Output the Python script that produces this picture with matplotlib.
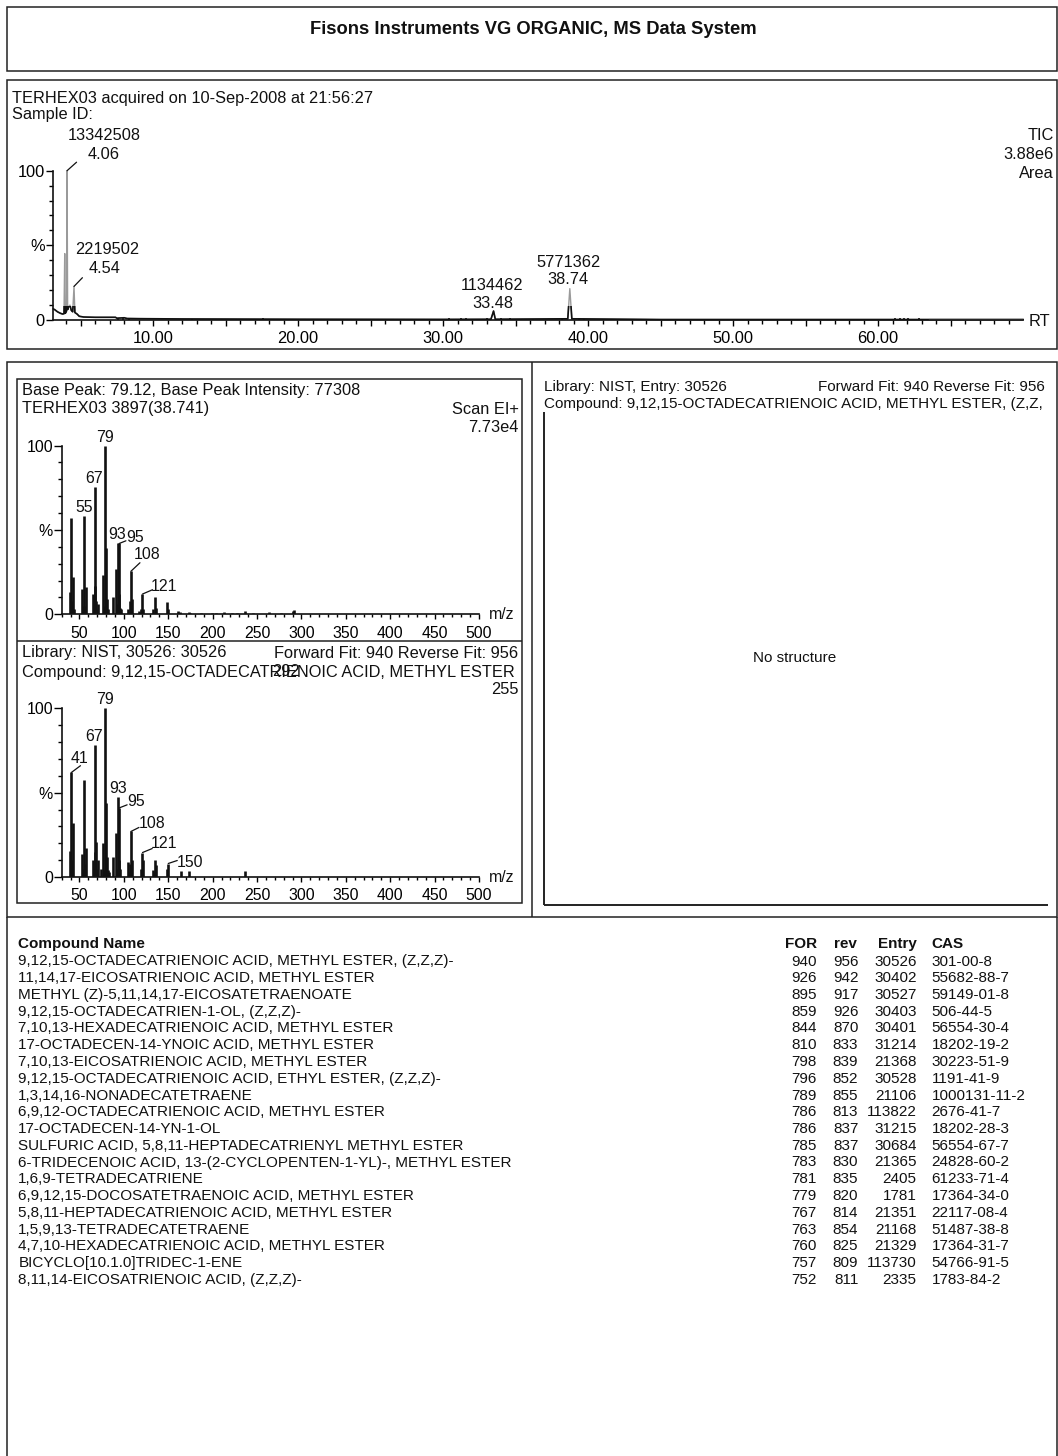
import matplotlib
matplotlib.use("Agg")
import matplotlib.pyplot as plt
from matplotlib.ticker import FixedLocator, FuncFormatter
from matplotlib.patches import Rectangle

W, H, DPI = 1058, 1456, 100
PT = 72.0 / DPI          # points per pixel
plt.rcParams['font.family'] = ['Liberation Sans', 'DejaVu Sans']
plt.rcParams['text.color'] = '#111111'

FS = 11.8     # main text size
FS_S = 10.95  # table / library panel text size

# ---------------- data ----------------
title = "Fisons Instruments VG ORGANIC, MS Data System"
run_line = "TERHEX03 acquired on 10-Sep-2008 at 21:56:27"
sample_line = "Sample ID:"

# TIC trace (retention time in min, % of full scale)
tic_rt = [3.07, 3.2, 3.4, 3.6, 3.75, 3.85, 3.90, 3.93, 3.98, 4.02, 4.10,
          4.18, 4.26, 4.35, 4.45, 4.60, 4.75, 4.9, 5.2, 6.0, 7.4, 7.5,
          8.0, 8.2, 9.0, 12.0, 20.0, 30.0, 33.3, 33.6, 38.6, 38.88, 45.0,
          61.0, 70.0]
tic_pct = [7.5, 7.0, 5.5, 4.5, 4.0, 4.2, 44.5, 4.5, 5.0, 6.0, 7.0,
           9.0, 10.0, 6.5, 5.5, 5.0, 4.0, 2.5, 2.0, 1.8, 1.8, 1.2,
           1.5, 1.0, 0.9, 0.7, 0.5, 0.4, 0.5, 0.5, 0.8, 0.8, 0.3,
           0.3, 0.3]
# integrated peaks
peak_rt = [4.06, 4.54, 33.48, 38.74]
peak_area = [13342508, 2219502, 1134462, 5771362]
peak_pct = [100.0, 22.5, 6.0, 21.0]
# small baseline spikes
noise_rt = [7.6, 7.9, 8.3, 12.7, 17.6, 18.2, 29.0, 30.4, 30.8, 31.2, 31.6,
            32.0, 32.5, 33.0, 34.0, 34.6, 35.4, 36.2, 38.2, 39.4, 39.7,
            61.2, 61.5, 61.8, 62.1, 62.4, 62.8, 63.4]
noise_pct = [1.5, 1.2, 1.0, 0.8, 1.2, 0.8, 1.0, 1.2, 1.0, 1.5, 1.2,
             1.0, 1.0, 1.2, 1.5, 1.2, 1.0, 0.8, 1.0, 1.5, 1.0,
             1.5, 1.2, 1.5, 1.2, 1.0, 1.2, 1.0]
tic_right = ["TIC", "3.88e6", "Area"]

# sample spectrum, scan 3897 (m/z, % of base peak)
scan_mz = [39, 41, 42, 43, 44, 53, 54, 55, 56, 57, 65, 66, 67, 68, 69, 70,
           71, 77, 78, 79, 80, 81, 82, 88, 91, 92, 93, 94, 95, 96, 97, 105,
           107, 108, 109, 117, 119, 121, 122, 133, 135, 136, 149, 150,
           161, 163, 173, 175, 187, 199, 204, 213, 222, 227, 236, 245,
           263, 277, 291, 292]
scan_pct = [13, 57, 8, 22, 3, 15, 5, 58, 5, 16, 12, 11, 75.5, 17, 8, 3,
            6, 23, 5, 100, 39, 9, 3, 10, 27, 6, 42, 12, 42, 4, 3, 3,
            8, 25.5, 9, 2, 3, 12, 3, 3, 10, 4, 7, 3,
            2, 1.5, 1.5, 1, 1, 1, 1, 1.5, 1, 1, 2, 1,
            1.5, 1, 2, 2.5]
scan_header = ["Base Peak: 79.12, Base Peak Intensity: 77308",
               "TERHEX03 3897(38.741)"]
scan_right = ["Scan EI+", "7.73e4"]

# NIST library spectrum, entry 30526
lib_mz = [39, 41, 42, 43, 53, 54, 55, 56, 57, 65, 66, 67, 68, 69, 70, 71,
          74, 77, 78, 79, 80, 81, 82, 83, 88, 91, 92, 93, 94, 95, 96, 105,
          106, 107, 108, 109, 119, 120, 121, 122, 133, 134, 135, 136, 149,
          150, 164, 173, 236]
lib_pct = [15.5, 62, 10, 32, 13.5, 5, 57.5, 8, 17, 10, 5, 78, 15, 21, 5,
           10, 5, 20, 4, 100, 44, 12, 4, 3, 12, 26, 5, 47.5, 10, 41, 5, 9,
           3, 8, 27, 10, 5, 3, 14.5, 10, 4, 3, 10, 7, 5,
           8, 3.7, 3.7, 3.7]
lib_header = ["Library: NIST, 30526: 30526",
              "Compound: 9,12,15-OCTADECATRIENOIC ACID, METHYL ESTER"]
lib_fit = "Forward Fit: 940 Reverse Fit: 956"

# hit list
hit_names = [
    "9,12,15-OCTADECATRIENOIC ACID, METHYL ESTER, (Z,Z,Z)-",
    "11,14,17-EICOSATRIENOIC ACID, METHYL ESTER",
    "METHYL (Z)-5,11,14,17-EICOSATETRAENOATE",
    "9,12,15-OCTADECATRIEN-1-OL, (Z,Z,Z)-",
    "7,10,13-HEXADECATRIENOIC ACID, METHYL ESTER",
    "17-OCTADECEN-14-YNOIC ACID, METHYL ESTER",
    "7,10,13-EICOSATRIENOIC ACID, METHYL ESTER",
    "9,12,15-OCTADECATRIENOIC ACID, ETHYL ESTER, (Z,Z,Z)-",
    "1,3,14,16-NONADECATETRAENE",
    "6,9,12-OCTADECATRIENOIC ACID, METHYL ESTER",
    "17-OCTADECEN-14-YN-1-OL",
    "SULFURIC ACID, 5,8,11-HEPTADECATRIENYL METHYL ESTER",
    "6-TRIDECENOIC ACID, 13-(2-CYCLOPENTEN-1-YL)-, METHYL ESTER",
    "1,6,9-TETRADECATRIENE",
    "6,9,12,15-DOCOSATETRAENOIC ACID, METHYL ESTER",
    "5,8,11-HEPTADECATRIENOIC ACID, METHYL ESTER",
    "1,5,9,13-TETRADECATETRAENE",
    "4,7,10-HEXADECATRIENOIC ACID, METHYL ESTER",
    "BICYCLO[10.1.0]TRIDEC-1-ENE",
    "8,11,14-EICOSATRIENOIC ACID, (Z,Z,Z)-",
]
hit_for = [940, 926, 895, 859, 844, 810, 798, 796, 789, 786,
           786, 785, 783, 781, 779, 767, 763, 760, 757, 752]
hit_rev = [956, 942, 917, 926, 870, 833, 839, 852, 855, 813,
           837, 837, 830, 835, 820, 814, 854, 825, 809, 811]
hit_entry = [30526, 30402, 30527, 30403, 30401, 31214, 21368, 30528, 21106,
             113822, 31215, 30684, 21365, 2405, 1781, 21351, 21168, 21329,
             113730, 2335]
hit_cas = ["301-00-8", "55682-88-7", "59149-01-8", "506-44-5", "56554-30-4",
           "18202-19-2", "30223-51-9", "1191-41-9", "1000131-11-2",
           "2676-41-7", "18202-28-3", "56554-67-7", "24828-60-2",
           "61233-71-4", "17364-34-0", "22117-08-4", "51487-38-8",
           "17364-31-7", "54766-91-5", "1783-84-2"]

# ---------------- figure ----------------
fig = plt.figure(figsize=(W / DPI, H / DPI), dpi=DPI)
fig.patch.set_facecolor('white')

bg = fig.add_axes([0, 0, 1, 1])
bg.set_xlim(0, W)
bg.set_ylim(H, 0)
bg.axis('off')

LW = 1.1
BOX = '#222222'


def box(x0, y0, x1, y1, lw=LW):
    bg.add_patch(Rectangle((x0, y0), x1 - x0, y1 - y0, fill=False,
                           lw=lw, ec=BOX))


def hline(y, x0, x1, lw=LW):
    bg.plot([x0, x1], [y, y], color=BOX, lw=lw, solid_capstyle='butt')


def vline(x, y0, y1, lw=LW):
    bg.plot([x, x], [y0, y1], color=BOX, lw=lw, solid_capstyle='butt')


def txt(x, y, s, ha='left', size=FS, **kw):
    bg.text(x, y, s, ha=ha, va='center', fontsize=size, **kw)


def px_axes(x0, x1, y_top, y_bottom):
    ax = fig.add_axes([x0 / W, 1 - y_bottom / H,
                       (x1 - x0) / W, (y_bottom - y_top) / H])
    ax.set_facecolor('none')
    for s in ('top', 'right'):
        ax.spines[s].set_visible(False)
    for s in ('left', 'bottom'):
        ax.spines[s].set_linewidth(1.2)
        ax.spines[s].set_color('#111111')
    return ax


# frames
box(7, 7, 1057, 71)
box(7, 80, 1057, 349)
box(7, 362, 1057, 917)
vline(7, 917, H)
vline(1057, 917, H)
vline(532, 362, 917)
box(17.3, 379, 521.7, 903.3)
hline(641, 17.3, 521.7)
vline(543.5, 412, 905, lw=1.4)
hline(905, 543.5, 1048, lw=1.4)

# header
txt(533, 30, title, ha='center', size=13.2, fontweight='bold')

# ---------------- TIC ----------------
txt(11.5, 98, run_line)
txt(11.5, 115, sample_line)
for i, s in enumerate(tic_right):
    txt(1054, 135 + 19.5 * i, s, ha='right')

tax = px_axes(52.7, 1023, 170.7, 320)
tax.set_xlim(3.07, 70)
tax.set_ylim(0, 100)

# trace = baseline points plus the integrated peak apexes
pts = sorted(zip(tic_rt + peak_rt, tic_pct + peak_pct))
trace_x = [p[0] for p in pts]
trace_y = [p[1] for p in pts]
tax.plot(trace_x, trace_y, color='#9a9a9a', lw=1.0, clip_on=False)
low, = tax.plot(trace_x, trace_y, color='#111111', lw=1.2)
clip = Rectangle((3.07, -2), 70, 11.5, transform=tax.transData)
low.set_clip_path(clip)
tax.vlines(noise_rt, 0, noise_pct, color='#111111', lw=1.2)
tax.plot([63.5, 70], [0.9, 0.9], color='#9a9a9a', lw=1.0)

tax.xaxis.set_major_locator(FixedLocator(range(5, 70, 5)))
tax.xaxis.set_minor_locator(FixedLocator(range(4, 70, 1)))
tax.xaxis.set_major_formatter(
    FuncFormatter(lambda v, p: f"{v:.2f}" if round(v) % 10 == 0 else ""))
tax.yaxis.set_major_locator(FixedLocator([0, 50, 100]))
tax.yaxis.set_minor_locator(FixedLocator(range(10, 100, 10)))
tax.yaxis.set_major_formatter(
    FuncFormatter(lambda v, p: {0: "0", 50: "%", 100: "100"}[int(v)]))
tax.tick_params(axis='x', which='major', length=6 * PT, width=1.0,
                pad=3.6, labelsize=FS)
tax.tick_params(axis='x', which='minor', length=3.5 * PT, width=1.0)
tax.tick_params(axis='y', which='major', length=7.5 * PT, width=1.0,
                pad=0.5, labelsize=FS)
tax.tick_params(axis='y', which='minor', length=4 * PT, width=1.0)
txt(1029, 321, "RT")

# peak labels: (area offset, rt offset, leader end) in pixels
tic_lbl = [((37, 35), (36.5, 16), (9.5, 8.5)),
           ((32.7, 36.5), (31, 18), (8.4, 8.7)),
           ((-1, 25.7), (-1, 8), None),
           ((-1, 26.6), (-1.5, 9), None)]
for rt, ar, pc, (oa, ot, ld) in zip(peak_rt, peak_area, peak_pct, tic_lbl):
    tax.annotate(f"{ar}", (rt, pc), xytext=oa, textcoords='offset pixels',
                 ha='center', va='center', fontsize=FS, annotation_clip=False)
    tax.annotate(f"{rt:.2f}", (rt, pc), xytext=ot, textcoords='offset pixels',
                 ha='center', va='center', fontsize=FS, annotation_clip=False)
    if ld:
        tax.annotate("", (rt, pc), xytext=ld, textcoords='offset pixels',
                     arrowprops=dict(arrowstyle='-', lw=0.9, color='#111111',
                                     shrinkA=0, shrinkB=0),
                     annotation_clip=False)


# ---------------- spectra ----------------
def spectrum(y_top, y_bottom, mz, pct, labels):
    ax = px_axes(61.7, 479, y_top, y_bottom)
    ax.set_xlim(30, 500)
    ax.set_ylim(0, 100)
    ax.vlines(mz, 0, pct, color='#111111', lw=1.9)
    ax.xaxis.set_major_locator(FixedLocator(range(50, 501, 50)))
    ax.xaxis.set_minor_locator(FixedLocator(range(30, 501, 10)))
    ax.yaxis.set_major_locator(FixedLocator([0, 50, 100]))
    ax.yaxis.set_minor_locator(FixedLocator(range(10, 100, 10)))
    ax.yaxis.set_major_formatter(
        FuncFormatter(lambda v, p: {0: "0", 50: "%", 100: "100"}[int(v)]))
    ax.tick_params(axis='x', which='major', length=5 * PT, width=1.0,
                   pad=4.5, labelsize=11.4)
    ax.tick_params(axis='x', which='minor', length=2.7 * PT, width=1.0)
    ax.tick_params(axis='y', which='major', length=8 * PT, width=1.0,
                   pad=0.5, labelsize=11.4)
    ax.tick_params(axis='y', which='minor', length=4 * PT, width=1.0)
    lookup = dict(zip(mz, pct))
    for m, off, lead in labels:
        ax.annotate(str(m), (m, lookup[m]), xytext=off,
                    textcoords='offset pixels', ha='center', va='center',
                    fontsize=11.4, annotation_clip=False)
        if lead:
            ax.annotate("", (m, lookup[m]), xytext=lead,
                        textcoords='offset pixels',
                        arrowprops=dict(arrowstyle='-', lw=0.9,
                                        color='#111111', shrinkA=0,
                                        shrinkB=0),
                        annotation_clip=False)
    return ax


# sample scan
txt(21.7, 391, scan_header[0])
txt(21.7, 409, scan_header[1])
txt(518.5, 409, scan_right[0], ha='right')
txt(518.5, 427, scan_right[1], ha='right')
spectrum(445.5, 614.3, scan_mz, scan_pct,
         [(79, (0, 8.5), None), (67, (0, 8.5), None), (55, (0, 8.5), None),
          (93, (-1, 8.5), None), (95, (15.7, 6), (6.5, 2.6)),
          (108, (15.8, 17), (9, 8.5)), (121, (21.7, 7.6), (10, 4.3))])
txt(502, 614.3, "m/z", ha='center', size=11.4)

# library spectrum
txt(21.7, 653, lib_header[0])
txt(518.5, 653, lib_fit, ha='right')
txt(21.7, 672, lib_header[1])
txt(272.5, 672, "292")
txt(518.5, 690, "255", ha='right')
spectrum(708.3, 877, lib_mz, lib_pct,
         [(79, (0, 8.5), None), (67, (0, 8.5), None), (41, (8, 14), (9, 6.7)),
          (93, (0, 8.5), None), (95, (16.7, 6), (7.7, 3)),
          (108, (21, 7.5), (8, 4)), (121, (22, 8.6), (9.7, 4)),
          (150, (22, 1), (9, 3))])
txt(502, 877, "m/z", ha='center', size=11.4)

# library panel
txt(544, 387, "Library: NIST, Entry: 30526", size=FS_S)
txt(1045, 387, "Forward Fit: 940 Reverse Fit: 956", ha='right', size=FS_S)
txt(544, 404, "Compound: 9,12,15-OCTADECATRIENOIC ACID, METHYL ESTER, (Z,Z,",
    size=FS_S)
txt(795, 658, "No structure", ha='center', size=FS_S)

# ---------------- hit list ----------------
y0, dy = 961.5, 16.75
txt(18.3, 944, "Compound Name", size=FS_S, fontweight='bold')
txt(816.7, 944, "FOR", ha='right', size=FS_S, fontweight='bold')
txt(857, 944, "rev", ha='right', size=FS_S, fontweight='bold')
txt(916.7, 944, "Entry", ha='right', size=FS_S, fontweight='bold')
txt(931.7, 944, "CAS", size=FS_S, fontweight='bold')
for i in range(len(hit_names)):
    y = y0 + dy * i
    txt(18.3, y, hit_names[i], size=FS_S)
    txt(816.7, y, str(hit_for[i]), ha='right', size=FS_S)
    txt(858.3, y, str(hit_rev[i]), ha='right', size=FS_S)
    txt(916.7, y, str(hit_entry[i]), ha='right', size=FS_S)
    txt(931.7, y, hit_cas[i], size=FS_S)

fig.savefig("out.png", dpi=DPI, facecolor='white')
